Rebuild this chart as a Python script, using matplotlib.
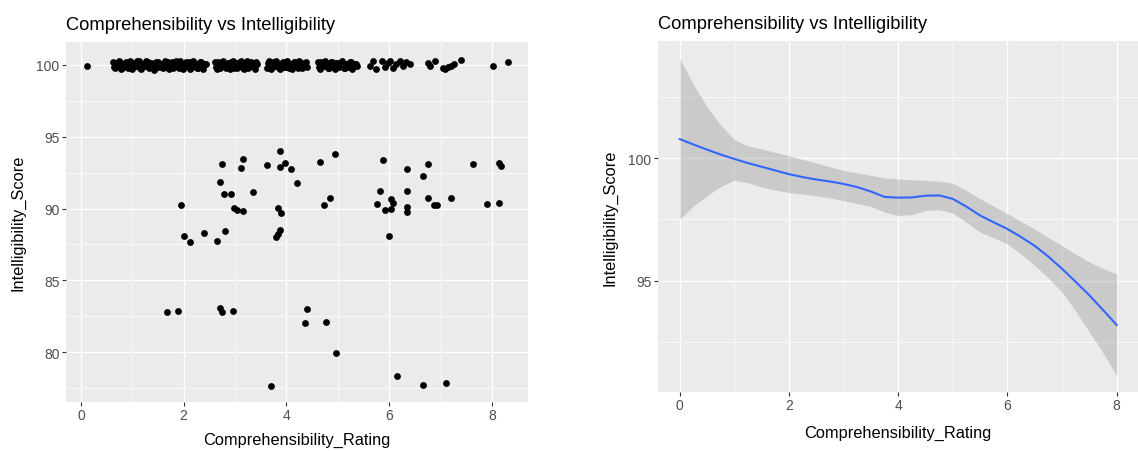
import matplotlib
matplotlib.use("Agg")
import matplotlib.pyplot as plt
from matplotlib.ticker import FixedLocator

plt.rcParams['font.family'] = ['Liberation Sans', 'DejaVu Sans']

# ratings that reached full intelligibility (100), jittered
top_x = [0.12,
         0.62, 0.66, 0.70, 0.74, 0.78, 0.82, 0.87, 0.91, 0.95, 1.00, 1.04,
         1.08, 1.13, 1.17, 1.22, 1.27, 1.32, 1.37, 1.42, 1.47, 1.52,
         0.64, 0.68, 0.72, 0.76, 0.80, 0.85, 0.89, 0.93, 0.98, 1.02, 1.06,
         1.10, 1.15, 1.20, 1.25, 1.30, 1.35, 1.40, 1.45, 1.50,
         1.60, 1.64, 1.68, 1.72, 1.77, 1.81, 1.86, 1.90, 1.95, 1.99, 2.04,
         2.08, 2.13, 2.18, 2.23, 2.28, 2.33, 2.38, 2.43,
         1.62, 1.66, 1.70, 1.75, 1.79, 1.84, 1.88, 1.93, 1.97, 2.02, 2.06,
         2.11, 2.16, 2.21, 2.26, 2.31, 2.36, 2.41,
         2.60, 2.64, 2.68, 2.73, 2.77, 2.82, 2.86, 2.91, 2.95, 3.00, 3.04,
         3.09, 3.13, 3.18, 3.23, 3.28, 3.33, 3.38, 3.42,
         2.62, 2.66, 2.71, 2.75, 2.80, 2.84, 2.89, 2.93, 2.98, 3.02, 3.07,
         3.11, 3.16, 3.21, 3.26, 3.31, 3.36, 3.40,
         3.62, 3.66, 3.70, 3.75, 3.79, 3.84, 3.88, 3.93, 3.97, 4.02, 4.06,
         4.11, 4.15, 4.20, 4.25, 4.30, 4.35, 4.40,
         3.64, 3.68, 3.73, 3.77, 3.82, 3.86, 3.91, 3.95, 4.00, 4.04, 4.09,
         4.13, 4.18, 4.23, 4.28, 4.33, 4.38,
         4.62, 4.66, 4.70, 4.75, 4.80, 4.84, 4.89, 4.94, 4.98, 5.03, 5.08,
         5.13, 5.18, 5.23, 5.28, 5.33, 5.38,
         4.64, 4.68, 4.73, 4.78, 4.82, 4.87, 4.92, 4.96, 5.01, 5.06, 5.11,
         5.16, 5.21, 5.26, 5.31, 5.36,
         5.62, 5.68, 5.74, 5.86, 5.92, 5.97, 6.02, 6.08, 6.14, 6.20, 6.27,
         6.33, 6.40, 6.76, 6.80, 6.89, 7.04, 7.09, 7.14, 7.21, 7.26, 7.39,
         8.02, 8.31]
top_y = [99.95,
         100.22, 99.78, 100.05, 100.30, 99.70, 99.95, 100.18, 99.82, 100.28, 99.74, 100.08,
         99.90, 100.25, 99.72, 100.02, 100.30, 99.80, 100.12, 99.68, 100.20, 99.88,
         99.84, 100.16, 99.92, 100.24, 99.76, 100.10, 99.86, 100.20, 99.80, 100.14, 99.94,
         100.26, 99.78, 100.08, 99.90, 100.22, 99.84, 100.04, 99.76, 100.18,
         99.76, 100.26, 100.00, 99.70, 100.20, 99.92, 100.30, 99.80, 100.10, 99.72, 100.24,
         99.96, 99.74, 100.28, 100.06, 99.82, 100.18, 99.70, 100.04,
         100.12, 99.86, 100.22, 99.94, 99.78, 100.16, 99.88, 100.26, 99.80, 100.08, 99.90,
         100.20, 99.84, 100.14, 99.76, 100.24, 99.92, 100.10,
         100.24, 99.72, 100.08, 99.90, 100.30, 99.76, 100.14, 99.70, 100.26, 99.96, 99.78,
         100.22, 100.02, 99.70, 100.28, 99.86, 100.16, 99.74, 100.06,
         99.86, 100.18, 99.80, 100.24, 99.92, 100.10, 99.84, 100.20, 99.78, 100.12, 99.94,
         100.26, 99.82, 100.06, 99.76, 100.18, 99.90, 100.22,
         99.80, 100.26, 99.72, 100.10, 100.30, 99.90, 99.70, 100.20, 99.84, 100.28, 100.00,
         99.74, 100.22, 99.94, 100.30, 99.78, 100.12, 99.86,
         100.14, 99.82, 100.22, 99.90, 100.06, 99.78, 100.16, 99.86, 100.24, 99.80, 100.10,
         99.92, 100.18, 99.76, 100.06, 99.88, 100.24,
         100.20, 99.74, 100.04, 100.30, 99.80, 99.96, 100.24, 99.70, 100.14, 99.88, 100.28,
         99.76, 100.06, 100.22, 99.72, 100.10, 99.92,
         99.86, 100.18, 99.90, 100.08, 99.78, 100.22, 99.84, 100.12, 99.94, 100.24, 99.80,
         100.10, 99.86, 100.18, 99.92, 100.04,
         99.90, 100.25, 99.72, 100.30, 99.85, 100.15, 100.30, 99.80, 100.05, 100.25, 99.90,
         100.20, 100.10, 100.14, 99.90, 100.30, 99.80, 99.72, 99.85, 99.93, 100.10, 100.35,
         99.90, 100.20]

# remaining ratings below 100
low_x = [1.95, 2.01, 2.12, 2.39, 2.65, 2.80, 2.74, 2.70, 2.78, 2.92, 2.98,
         3.03, 3.15, 3.11, 3.16, 3.35, 3.62, 3.88, 3.88, 3.97, 4.08, 4.21,
         3.84, 3.90, 3.79, 3.83, 3.87, 4.66, 4.94, 4.74, 4.85, 5.88, 5.82,
         5.77, 5.91, 6.04, 6.08, 6.04, 6.00, 6.35, 6.35, 6.35, 6.35, 6.65,
         6.76, 6.75, 6.88, 6.93, 7.21, 7.63, 7.91, 8.13, 8.18, 8.13,
         1.68, 1.88, 2.71, 2.74, 2.96, 3.70, 4.39, 4.36, 4.76, 4.96, 6.15,
         6.66, 7.11]
low_y = [90.22, 88.10, 87.70, 88.27, 87.76, 88.43, 93.10, 91.83, 91.00, 91.00, 90.03,
         89.90, 89.80, 92.85, 93.45, 91.15, 93.03, 94.03, 92.90, 93.17, 92.75, 91.75,
         90.03, 89.70, 88.04, 88.22, 88.48, 93.26, 93.78, 90.22, 90.73, 93.36, 91.22,
         90.31, 89.90, 90.66, 90.36, 89.97, 88.10, 92.75, 91.24, 90.08, 89.73, 92.24,
         93.10, 90.73, 90.22, 90.22, 90.73, 93.10, 90.31, 93.20, 92.94, 90.40,
         82.77, 82.86, 83.04, 82.77, 82.86, 77.60, 83.02, 82.00, 82.09, 79.90, 78.30,
         77.70, 77.84]

# loess fit with 95% confidence band
smooth_x = [0, 0.25, 0.5, 0.75, 1, 1.25, 1.5, 1.75, 2, 2.25, 2.5, 2.75, 3,
            3.25, 3.5, 3.75, 4, 4.25, 4.5, 4.75, 5, 5.25, 5.5, 5.75, 6,
            6.25, 6.5, 6.75, 7, 7.25, 7.5, 7.75, 8]
smooth_fit = [100.78, 100.56, 100.35, 100.15, 99.97, 99.80, 99.65, 99.50, 99.35,
              99.23, 99.13, 99.05, 98.95, 98.82, 98.64, 98.42, 98.39, 98.40,
              98.47, 98.48, 98.34, 98.02, 97.66, 97.38, 97.11, 96.78, 96.42,
              95.98, 95.48, 94.95, 94.40, 93.80, 93.19]
smooth_hi = [104.07, 103.00, 102.10, 101.35, 100.76, 100.50, 100.38, 100.24, 100.10,
             99.95, 99.80, 99.65, 99.50, 99.40, 99.30, 99.20, 99.15, 99.12,
             99.10, 99.06, 98.98, 98.68, 98.34, 98.04, 97.73, 97.42, 97.10,
             96.76, 96.43, 96.08, 95.76, 95.50, 95.27]
smooth_lo = [97.50, 98.05, 98.47, 98.85, 99.10, 99.00, 98.82, 98.70, 98.60,
             98.53, 98.47, 98.38, 98.27, 98.15, 98.03, 97.80, 97.66, 97.70,
             97.87, 97.90, 97.76, 97.38, 96.98, 96.75, 96.50, 96.08, 95.62,
             95.10, 94.53, 93.75, 92.90, 92.05, 91.12]

title = "Comprehensibility vs Intelligibility"


def gg_style(ax, xlim, ylim, yticks, yminor):
    ax.set_facecolor('#EBEBEB')
    for s in ax.spines.values():
        s.set_visible(False)
    ax.set_xlim(*xlim)
    ax.set_ylim(*ylim)
    ax.xaxis.set_major_locator(FixedLocator([0, 2, 4, 6, 8]))
    ax.xaxis.set_minor_locator(FixedLocator([1, 3, 5, 7]))
    ax.yaxis.set_major_locator(FixedLocator(yticks))
    ax.yaxis.set_minor_locator(FixedLocator(yminor))
    ax.grid(which='major', color='white', lw=1.0)
    ax.grid(which='minor', color='white', lw=0.5)
    ax.set_axisbelow(True)
    ax.tick_params(which='major', length=2.6, width=0.8, color='#333333',
                   labelcolor='#4D4D4D', labelsize=10, pad=2)
    ax.tick_params(which='minor', length=0)
    ax.set_title(title, loc='left', fontsize=13.2, pad=9)
    ax.set_xlabel('Comprehensibility_Rating', fontsize=11.8)
    ax.set_ylabel('Intelligibility_Score', fontsize=11.8)


fig = plt.figure(figsize=(11.38, 4.52), dpi=100)

ax1 = fig.add_axes([66 / 1138, 1 - 403 / 452, 462 / 1138, 360 / 452])
gg_style(ax1, (-0.29, 8.70), (76.52, 101.6), [80, 85, 90, 95, 100],
         [77.5, 82.5, 87.5, 92.5, 97.5])
ax1.scatter(top_x, top_y, s=24, c='black', linewidths=0, zorder=3)
ax1.scatter(low_x, low_y, s=24, c='black', linewidths=0, zorder=3)
ax1.xaxis.set_label_coords(0.5, -0.083)
ax1.yaxis.set_label_coords(-0.087, 0.5)

ax2 = fig.add_axes([658 / 1138, 1 - 393 / 452, 480 / 1138, 351 / 452])
gg_style(ax2, (-0.4, 8.39), (90.45, 104.79), [95, 100], [92.5, 97.5, 102.5])
ax2.fill_between(smooth_x, smooth_lo, smooth_hi, color='#999999', alpha=0.4,
                 lw=0, zorder=2)
ax2.plot(smooth_x, smooth_fit, color='#3366FF', lw=1.5, zorder=3)
ax2.xaxis.set_label_coords(0.5, -0.094)
ax2.yaxis.set_label_coords(-0.085, 0.5)

fig.savefig('out.png', dpi=100)
